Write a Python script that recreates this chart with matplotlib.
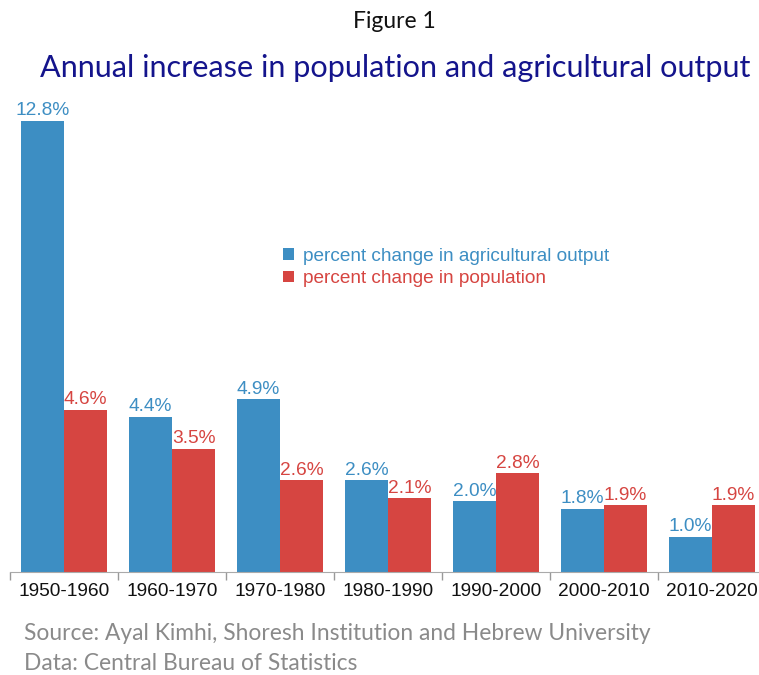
import numpy as np
import matplotlib.pyplot as plt

decades = ['1950-1960', '1960-1970', '1970-1980', '1980-1990',
           '1990-2000', '2000-2010', '2010-2020']
agri_output = [12.8, 4.4, 4.9, 2.6, 2.0, 1.8, 1.0]
population = [4.6, 3.5, 2.6, 2.1, 2.8, 1.9, 1.9]

blue = '#3d8ec3'
red = '#d64541'

fig = plt.figure(figsize=(7.59, 6.75), dpi=100)
W, H = 759, 675
ax = fig.add_axes([10 / W, (H - 572) / H, 756 / W, 462 / H])

x = np.arange(len(decades))
w = 0.4
b1 = ax.bar(x - w / 2, agri_output, w, color=blue, label='percent change in agricultural output')
b2 = ax.bar(x + w / 2, population, w, color=red, label='percent change in population')

lab_font = dict(family='Liberation Sans', fontsize=13.8)
for bars, vals, c in [(b1, agri_output, blue), (b2, population, red)]:
    for rect, v in zip(bars, vals):
        ax.annotate(f'{v:.1f}%', (rect.get_x() + rect.get_width() / 2, v),
                    xytext=(0, 1), textcoords='offset points',
                    ha='center', va='bottom', color=c, **lab_font)

ax.set_xlim(-0.5, len(decades) - 0.5)
ax.set_ylim(0, 13.1)
ax.set_yticks([])
ax.set_xticks(x)
ax.set_xticklabels(decades, **lab_font, color='#111111')
ax.tick_params(axis='x', which='major', length=0, pad=8)
ax.set_xticks(np.arange(-0.5, len(decades), 1), minor=True)
ax.tick_params(axis='x', which='minor', length=6, color='#999999', width=1)
for s in ['top', 'right', 'left']:
    ax.spines[s].set_visible(False)
ax.spines['bottom'].set_color('#aaaaaa')

leg = ax.legend(loc='upper left', bbox_to_anchor=(0.339, 0.739), frameon=False,
                handlelength=0.55, handleheight=0.55, handletextpad=0.47,
                labelspacing=0.3, prop={'family': 'Liberation Sans', 'size': 13.7})
for t, c in zip(leg.get_texts(), [blue, red]):
    t.set_color(c)

fig.text(394 / W, 1 - 22 / H, 'Figure 1', ha='center', va='center',
         family='Lato', fontsize=16.5, color='#111111')
fig.text(395 / W, 1 - 68 / H, 'Annual increase in population and agricultural output',
         ha='center', va='center', family='Lato', fontsize=22.1, color='#14148c')
fig.text(24 / W, 1 - 634 / H, 'Source: Ayal Kimhi, Shoresh Institution and Hebrew University',
         ha='left', va='center', family='Lato', fontsize=16.4, color='#8a8a8a')
fig.text(24 / W, 1 - 664 / H, 'Data: Central Bureau of Statistics',
         ha='left', va='center', family='Lato', fontsize=16.4, color='#8a8a8a')

fig.savefig('out.png', dpi=100)
